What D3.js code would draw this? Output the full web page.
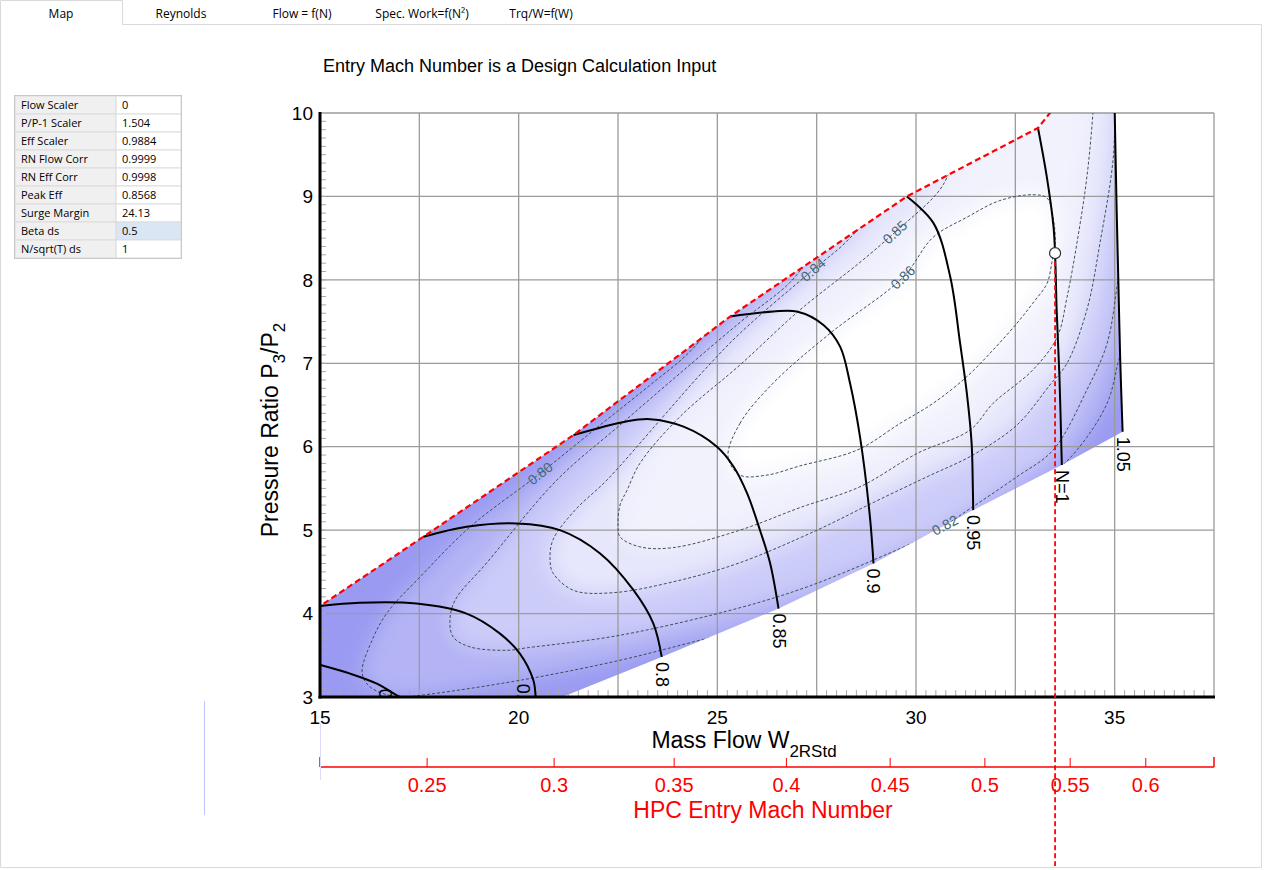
<!DOCTYPE html>
<html lang="en">
<head>
<meta charset="UTF-8">
<title>Map</title>
<script src="https://d3js.org/d3.v7.min.js"></script>
<style>
  body { margin: 0; background: #fff; }
  svg { display: block; }
  .chart text { font-family: "Liberation Sans", Arial, sans-serif; }
  .ui text { font-family: "Open Sans", "Noto Sans", sans-serif; font-size: 11px; fill: #000; }
</style>
</head>
<body>
<svg id="chart" width="1264" height="870"></svg>
<script>
// ---- data ----
var flowTicks = [15, 20, 25, 30, 35];
var flowGrid = [15, 17.5, 20, 22.5, 25, 27.5, 30, 32.5, 35, 37.5];
var prTicks = [3, 4, 5, 6, 7, 8, 9, 10];
var machTicks = [0.25, 0.3, 0.35, 0.4, 0.45, 0.5, 0.55, 0.6];
var flowPerQ = 73.47; // W2RStd = flowPerQ * M / (1 + 0.2 M^2)^3

var speedNames = ["0.7", "0.75", "0.8", "0.85", "0.9", "0.95", "N=1", "1.05"];
var speed070 = [[13.3, 3.55], [14.3, 3.47], [15.04, 3.38], [15.76, 3.28], [16.43, 3.16], [17.01, 3.0], [17.3, 2.94]];
var speed075 = [[15.0, 4.09], [16.0, 4.13], [17.43, 4.12], [18.69, 4.0], [19.53, 3.76], [20.03, 3.52], [20.37, 3.2], [20.43, 3.0], [20.47, 2.88]];
var speed080 = [[17.6, 4.92], [18.69, 5.04], [19.95, 5.08], [21.04, 5.0], [22.05, 4.72], [22.89, 4.28], [23.39, 3.88], [23.6, 3.48]];
var speed085 = [[21.38, 6.14], [22.68, 6.3], [23.31, 6.33], [24.15, 6.24], [24.99, 6.0], [25.41, 5.76], [25.75, 5.44], [26.08, 4.99], [26.33, 4.6], [26.54, 4.06]];
var speed090 = [[25.32, 7.56], [26.41, 7.62], [27.0, 7.62], [27.67, 7.46], [28.09, 7.2], [28.34, 6.76], [28.59, 6.12], [28.84, 5.16], [28.93, 4.6]];
var speed095 = [[29.77, 9.0], [30.44, 8.68], [30.86, 8.04], [31.11, 7.24], [31.28, 6.64], [31.4, 6.04], [31.43, 5.52], [31.44, 5.24]];
var speed100 = [[33.07, 9.82], [33.29, 9.24], [33.46, 8.64], [33.5, 8.32], [33.54, 7.64], [33.61, 6.84], [33.67, 5.78]];
var speed105 = [[34.96, 10.95], [35.0, 10.04], [35.05, 8.84], [35.09, 8.04], [35.14, 7.04], [35.2, 6.18]];
var speedLines = [speed070, speed075, speed080, speed085, speed090, speed095, speed100, speed105];
var speedLabelAt = [[16.64, 3.16], [20.1, 3.22], [23.6, 3.48], [26.54, 4.06], [28.93, 4.6], [31.44, 5.24], [33.67, 5.78], [35.2, 6.18]];

var effLevels = [0.80, 0.82, 0.84, 0.85, 0.86];
var eff080 = [[27.08, 8.75], [25.07, 7.58], [24.31, 7.14], [23.31, 6.74], [22.05, 6.26], [20.54, 5.68], [18.78, 5.04], [17.52, 4.44], [16.69, 4.01], [16.31, 3.68], [16.06, 3.29], [16.26, 3.12], [16.94, 3.0], [17.52, 3.02], [20.03, 3.2], [22.55, 3.44], [24.56, 3.68], [26.07, 3.86], [29.6, 4.58], [32.11, 5.3], [33.25, 5.6], [34.05, 5.96], [34.81, 6.52], [35.13, 7.08], [35.39, 7.4], [35.64, 10.64], [27.08, 10.64]];
var eff082 = [[28.84, 9.2], [27.46, 8.36], [26.83, 7.97], [25.57, 7.49], [24.06, 6.88], [22.55, 6.26], [20.96, 5.6], [19.2, 4.61], [18.4, 4.16], [18.27, 3.92], [18.35, 3.72], [18.78, 3.6], [19.71, 3.56], [20.21, 3.59], [22.55, 3.74], [25.57, 4.07], [27.26, 4.32], [28.92, 4.64], [30.43, 4.97], [31.43, 5.28], [32.54, 5.64], [33.45, 5.96], [34.3, 6.68], [34.81, 7.24], [35.08, 8.0], [35.23, 8.6], [35.51, 10.64], [28.84, 10.64]];
var eff084 = [[30.35, 9.56], [28.97, 8.84], [28.21, 8.44], [27.41, 8.12], [25.57, 7.36], [24.56, 6.86], [23.56, 6.32], [22.22, 5.6], [21.42, 5.24], [20.86, 4.88], [20.79, 4.64], [20.86, 4.49], [21.37, 4.28], [22.37, 4.25], [24.06, 4.4], [25.57, 4.61], [27.51, 5.0], [28.92, 5.33], [30.28, 5.64], [31.43, 5.9], [32.54, 6.26], [33.37, 6.74], [33.8, 7.0], [34.3, 7.64], [34.63, 8.44], [34.96, 9.44], [35.03, 10.28], [35.13, 10.64], [30.35, 10.64]];
var eff085 = [[31.74, 10.04], [30.98, 9.44], [30.6, 9.08], [29.47, 8.57], [28.59, 8.21], [27.08, 7.64], [25.57, 6.98], [24.06, 6.36], [23.05, 5.8], [22.73, 5.48], [22.55, 5.3], [22.5, 5.06], [22.55, 4.92], [23.05, 4.8], [23.88, 4.79], [25.57, 5.0], [27.08, 5.27], [28.59, 5.52], [30.03, 5.92], [31.36, 6.2], [31.94, 6.52], [32.94, 6.92], [33.55, 7.31], [33.8, 7.79], [34.05, 8.44], [34.3, 9.23], [34.46, 10.04], [34.53, 10.64], [31.74, 10.64]];
var eff086 = [[25.27, 5.88], [25.57, 6.28], [26.4, 6.76], [27.84, 7.36], [29.67, 8.03], [30.43, 8.51], [31.28, 8.75], [32.11, 8.95], [32.94, 9.02], [33.3, 8.98], [33.47, 8.69], [33.5, 8.42], [33.42, 8.21], [33.3, 7.96], [32.94, 7.72], [32.54, 7.48], [31.94, 7.16], [31.28, 6.84], [30.43, 6.52], [29.6, 6.28], [28.52, 5.96], [27.08, 5.77], [26.25, 5.66], [25.57, 5.66]];
var effContours = [eff080, eff082, eff084, eff085, eff086];
var effLabelAt = [[20.54, 5.68], [30.73, 5.06], [27.41, 8.12], [29.47, 8.57], [29.67, 8.03]];
var effLabels = ["0.80", "0.82", "0.84", "0.85", "0.86"];

var designPoint = [33.5, 8.32];

var tableLabels = ["Flow Scaler", "P/P-1 Scaler", "Eff Scaler", "RN Flow Corr", "RN Eff Corr", "Peak Eff", "Surge Margin", "Beta ds", "N/sqrt(T) ds"];
var tableValues = ["0", "1.504", "0.9884", "0.9999", "0.9998", "0.8568", "24.13", "0.5", "1"];
var tabNames = ["Map", "Reynolds", "Flow = f(N)", "Spec. Work=f(N\u00b2)", "Trq/W=f(W)"];
var tabCenters = [61, 181, 302, 422, 541];

// ---- scales ----
var svg = d3.select("#chart");
var plotLeft = 320, plotRight = 1214, plotTop = 113, plotBottom = 697;
var x = d3.scaleLinear().domain([15, 37.5]).range([plotLeft, plotRight]);
var y = d3.scaleLinear().domain([3, 10]).range([plotBottom, plotTop]);
var flowOfMach = function(m) { return flowPerQ * m / Math.pow(1 + 0.2 * m * m, 3); };
var effColor = d3.scaleLinear().domain([0.78, 0.86]).range(["#9a9af2", "#ffffff"]);

var lin = d3.line().x(d => x(d[0])).y(d => y(d[1]));
var smooth = d3.line().x(d => x(d[0])).y(d => y(d[1])).curve(d3.curveCatmullRom.alpha(0.5));
var ring = d3.line().x(d => x(d[0])).y(d => y(d[1])).curve(d3.curveCatmullRomClosed.alpha(0.5));

// operating region: surge (first points), 1.05 line, choke (last points)
var region = speedLines.map(l => l[0])
    .concat(speed105.slice(1))
    .concat(speedLines.slice(0, -1).map(l => l[l.length - 1]).reverse())
    .concat([[speed070[0][0], speed070[speed070.length - 1][1]]]);

var defs = svg.append("defs");
defs.append("clipPath").attr("id", "plotClip").append("rect")
    .attr("x", plotLeft).attr("y", plotTop).attr("width", plotRight - plotLeft).attr("height", plotBottom - plotTop);
defs.append("clipPath").attr("id", "regionClip").append("path").attr("d", lin(region));
defs.append("filter").attr("id", "soft")
    .attr("filterUnits", "userSpaceOnUse")
    .attr("x", 0).attr("y", 0).attr("width", 1264).attr("height", 870)
    .append("feGaussianBlur").attr("stdDeviation", 10);

var chart = svg.append("g").attr("class", "chart");

// shaded efficiency field
var field = chart.append("g").attr("clip-path", "url(#plotClip)")
    .append("g").attr("clip-path", "url(#regionClip)")
    .append("g").attr("filter", "url(#soft)");
field.append("rect")
    .attr("x", plotLeft - 40).attr("y", plotTop - 40)
    .attr("width", plotRight - plotLeft + 80).attr("height", plotBottom - plotTop + 80)
    .attr("fill", effColor(0.78));
effContours.forEach(function(c, i) {
    field.append("path").attr("d", ring(c)).attr("fill", effColor(effLevels[i]));
});

// grid
chart.append("g").selectAll("line").data(flowGrid).enter().append("line")
    .attr("x1", d => x(d)).attr("x2", d => x(d))
    .attr("y1", plotTop).attr("y2", plotBottom)
    .attr("stroke", "#9b9b9b").attr("stroke-width", 1.3);
chart.append("g").selectAll("line").data(prTicks).enter().append("line")
    .attr("x1", plotLeft).attr("x2", plotRight)
    .attr("y1", d => y(d)).attr("y2", d => y(d))
    .attr("stroke", "#9b9b9b").attr("stroke-width", 1.3);

// minor ticks
chart.append("g").selectAll("line").data(d3.range(3.1, 10, 0.1)).enter().append("line")
    .attr("x1", plotLeft + 1).attr("x2", plotLeft + 6)
    .attr("y1", d => y(d)).attr("y2", d => y(d))
    .attr("stroke", "#aaa").attr("stroke-width", 1);
chart.append("g").selectAll("line").data(d3.range(15.25, 37.5, 0.25)).enter().append("line")
    .attr("x1", d => x(d)).attr("x2", d => x(d))
    .attr("y1", plotBottom - 1).attr("y2", plotBottom - 7)
    .attr("stroke", "#aaa").attr("stroke-width", 1);

// efficiency contours
chart.append("g").attr("clip-path", "url(#plotClip)")
    .append("g").attr("clip-path", "url(#regionClip)")
    .selectAll("path").data(effContours).enter().append("path")
    .attr("d", d => ring(d))
    .attr("fill", "none")
    .attr("stroke", "#344c4c")
    .attr("stroke-width", 0.95)
    .attr("stroke-dasharray", "3,2");

// contour labels, turned along the local direction of the contour
var effLab = chart.append("g").attr("clip-path", "url(#plotClip)");
effLabelAt.forEach(function(p, i) {
    var c = effContours[i], px = x(p[0]), py = y(p[1]);
    var k = d3.minIndex(c, d => Math.hypot(x(d[0]) - px, y(d[1]) - py));
    var a = c[Math.max(k - 1, 0)], b = c[Math.min(k + 1, c.length - 1)];
    var ang = Math.atan2(y(b[1]) - y(a[1]), x(b[0]) - x(a[0])) * 180 / Math.PI;
    if (ang > 90) ang -= 180;
    if (ang < -90) ang += 180;
    effLab.append("text")
        .attr("transform", "translate(" + px + "," + py + ") rotate(" + ang + ")")
        .attr("text-anchor", "middle")
        .attr("dy", "0.35em")
        .style("font-size", "14px")
        .style("fill", "#436878")
        .text(effLabels[i]);
});

// speed lines
var plotG = chart.append("g").attr("clip-path", "url(#plotClip)");
plotG.selectAll("path.speed").data(speedLines).enter().append("path")
    .attr("class", "speed")
    .attr("d", d => smooth(d))
    .attr("fill", "none")
    .attr("stroke", "#000")
    .attr("stroke-width", 2);

// surge line
plotG.append("path")
    .attr("d", lin(speedLines.map(l => l[0])))
    .attr("fill", "none")
    .attr("stroke", "#ff0000")
    .attr("stroke-width", 2.2)
    .attr("stroke-dasharray", "6,3.5");

// speed labels
plotG.selectAll("text.speedlab").data(speedLabelAt).enter().append("text")
    .attr("class", "speedlab")
    .attr("transform", d => "translate(" + x(d[0]) + "," + y(d[1]) + ") rotate(90)")
    .attr("x", 5).attr("y", 6)
    .style("font-size", "18px")
    .text((d, i) => speedNames[i]);

// axes
chart.append("line").attr("x1", plotLeft).attr("x2", plotLeft).attr("y1", plotTop - 1).attr("y2", plotBottom + 1.5)
    .attr("stroke", "#000").attr("stroke-width", 3);
chart.append("line").attr("x1", plotLeft - 1.5).attr("x2", plotRight + 1).attr("y1", plotBottom).attr("y2", plotBottom)
    .attr("stroke", "#000").attr("stroke-width", 3);

chart.append("g").selectAll("text").data(prTicks).enter().append("text")
    .attr("x", plotLeft - 7).attr("y", d => y(d)).attr("dy", "0.35em")
    .attr("text-anchor", "end").style("font-size", "19px").text(d => d);
chart.append("g").selectAll("text").data(flowTicks).enter().append("text")
    .attr("x", d => x(d)).attr("y", plotBottom + 27)
    .attr("text-anchor", "middle").style("font-size", "19px").text(d => d);

var xl = chart.append("text").attr("x", 744).attr("y", 748)
    .attr("text-anchor", "middle").style("font-size", "23px");
xl.append("tspan").text("Mass Flow W");
xl.append("tspan").attr("dy", 9).style("font-size", "17px").text("2RStd");

var yl = chart.append("text").attr("transform", "translate(278,430) rotate(-90)")
    .attr("text-anchor", "middle").style("font-size", "23px");
yl.append("tspan").text("Pressure Ratio P");
yl.append("tspan").attr("dy", 7).style("font-size", "17px").text("3");
yl.append("tspan").attr("dy", -7).text("/P");
yl.append("tspan").attr("dy", 7).style("font-size", "17px").text("2");

// design point and its red marker line
chart.append("line")
    .attr("x1", x(designPoint[0])).attr("x2", x(designPoint[0]))
    .attr("y1", y(designPoint[1])).attr("y2", 866)
    .attr("stroke", "#ff0000").attr("stroke-width", 1.8)
    .attr("stroke-dasharray", "5,3");
chart.append("circle")
    .attr("cx", x(designPoint[0])).attr("cy", y(designPoint[1])).attr("r", 5.5)
    .attr("fill", "#fff").attr("stroke", "#333").attr("stroke-width", 1.2);

// HPC entry Mach number axis
var machY = 767;
var mach = chart.append("g");
mach.append("line").attr("x1", plotLeft).attr("x2", plotRight).attr("y1", machY).attr("y2", machY)
    .attr("stroke", "#ff0000").attr("stroke-width", 1.5);
mach.selectAll("line.end").data([plotLeft, plotRight]).enter().append("line").attr("class", "end")
    .attr("x1", d => d).attr("x2", d => d).attr("y1", machY).attr("y2", machY - 10)
    .attr("stroke", "#ff0000").attr("stroke-width", 1.5);
mach.selectAll("line.tick").data(machTicks).enter().append("line").attr("class", "tick")
    .attr("x1", d => x(flowOfMach(d))).attr("x2", d => x(flowOfMach(d)))
    .attr("y1", machY).attr("y2", machY - 9)
    .attr("stroke", "#ff0000").attr("stroke-width", 1);
mach.selectAll("text").data(machTicks).enter().append("text")
    .attr("x", d => x(flowOfMach(d))).attr("y", 792)
    .attr("text-anchor", "middle").style("font-size", "20px").style("fill", "#ff0000")
    .text(d => d);
chart.append("text").attr("x", 763).attr("y", 818).attr("text-anchor", "middle")
    .style("font-size", "23px").style("fill", "#ff0000").text("HPC Entry Mach Number");

// faint leftovers
chart.append("line").attr("x1", 204.5).attr("x2", 204.5).attr("y1", 701).attr("y2", 815)
    .attr("stroke", "#c2c2ff").attr("stroke-width", 1);
chart.append("line").attr("x1", plotLeft + 0.5).attr("x2", plotLeft + 0.5).attr("y1", 723).attr("y2", 780)
    .attr("stroke", "#dcdcff").attr("stroke-width", 1);

// title
chart.append("text").attr("x", 323).attr("y", 72).style("font-size", "18px")
    .text("Entry Mach Number is a Design Calculation Input");

// ---- window chrome: tabs and parameter table ----
var ui = svg.append("g").attr("class", "ui");
ui.append("path").attr("d", "M0.5,24.5 V867.5 H1261.5 V24.5 H122")
    .attr("fill", "none").attr("stroke", "#dadada");
ui.append("path").attr("d", "M0.5,25 V0.5 H122.5 V25")
    .attr("fill", "#fff").attr("stroke", "#dadada");
ui.selectAll("text.tab").data(tabNames).enter().append("text").attr("class", "tab")
    .attr("x", (d, i) => tabCenters[i]).attr("y", 18)
    .attr("text-anchor", "middle").style("font-size", "12px")
    .text(d => d);

var rowH = 18, tx = 15, ty = 96;
var rows = ui.selectAll("g.row").data(tableLabels).enter().append("g").attr("class", "row")
    .attr("transform", (d, i) => "translate(" + tx + "," + (ty + i * rowH) + ")");
rows.append("rect").attr("width", 101).attr("height", rowH)
    .attr("fill", "#f0f0f0").attr("stroke", "#dcdcdc");
rows.append("rect").attr("x", 101).attr("width", 65).attr("height", rowH)
    .attr("fill", (d, i) => tableLabels[i] === "Beta ds" ? "#dbe6f4" : "#fff")
    .attr("stroke", "#dcdcdc");
rows.append("text").attr("x", 6).attr("y", 13).text(d => d);
rows.append("text").attr("x", 107).attr("y", 13).text((d, i) => tableValues[i]);
ui.append("rect").attr("x", tx - 0.5).attr("y", ty - 0.5)
    .attr("width", 167).attr("height", rowH * tableLabels.length + 1)
    .attr("fill", "none").attr("stroke", "#c8c8c8");
</script>
</body>
</html>
